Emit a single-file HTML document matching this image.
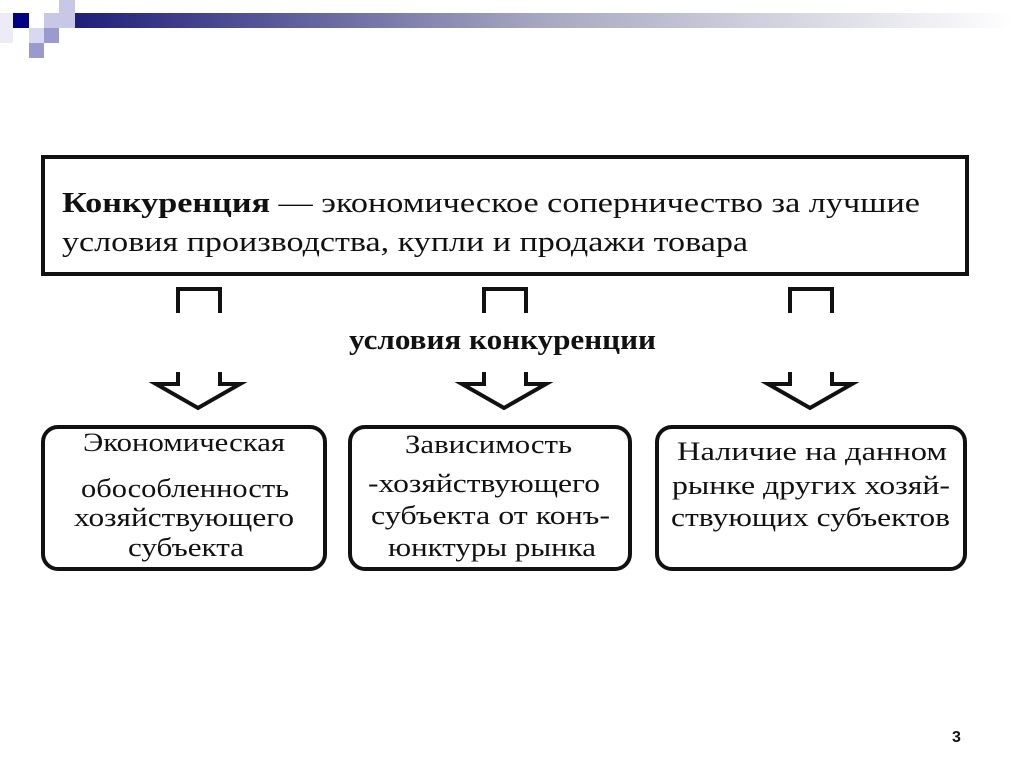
<!DOCTYPE html>
<html><head><meta charset="utf-8"><style>
body{margin:0;background:#fff;}
svg{display:block}
text{font-family:"Liberation Serif","DejaVu Serif",serif;fill:#111}
</style></head><body>
<svg width="1024" height="767" viewBox="0 0 1024 767">
<defs><linearGradient id="g" x1="0" x2="1"><stop offset="0" stop-color="#1a1a78"/><stop offset="0.5" stop-color="#a6a6c0"/><stop offset="1" stop-color="#fff"/></linearGradient></defs>
<rect x="59" y="13" width="955" height="15" fill="url(#g)"/>
<rect x="13" y="13" width="16" height="15" fill="#000080"/>
<rect x="44" y="13" width="15" height="15" fill="#c8c8e6"/>
<rect x="59" y="0" width="16" height="28" fill="#c8c8e6"/>
<rect x="29" y="28" width="15" height="15" fill="#d8d8ee"/>
<rect x="44" y="28" width="15" height="15" fill="#9a9ace"/>
<rect x="29" y="43" width="15" height="15" fill="#9a9ace"/>
<rect x="0" y="13" width="13" height="30" fill="#ececf6"/>
<rect x="43" y="157" width="924" height="117" fill="none" stroke="#111" stroke-width="4"/>
<g lengthAdjust="spacingAndGlyphs">
<text x="62" y="212" font-size="28" textLength="858" lengthAdjust="spacingAndGlyphs"><tspan font-weight="bold">Конкуренция</tspan> — экономическое соперничество за лучшие</text>
<text x="62" y="251" font-size="28" textLength="686" lengthAdjust="spacingAndGlyphs">условия производства, купли и продажи товара</text>
</g>
<g fill="none" stroke="#111" stroke-width="4">
<path d="M178 313V289H220V313"/><path d="M484 313V289H526V313"/><path d="M790 313V289H832V313"/>
<path d="M178 372V384H156L198 408L240 384H220V372"/>
<path d="M484 372V384H462L504 408L546 384H526V372"/>
<path d="M790 372V384H768L810 408L852 384H832V372"/>
<rect x="43" y="427" width="282" height="142" rx="15"/>
<rect x="350" y="427" width="280" height="142" rx="15"/>
<rect x="657" y="427" width="308" height="142" rx="15"/>
</g>
<text x="349" y="349" font-size="28" font-weight="bold" textLength="307" lengthAdjust="spacingAndGlyphs">условия конкуренции</text>
<g font-size="26">
<text x="83" y="451" textLength="202" lengthAdjust="spacingAndGlyphs">Экономическая</text>
<text x="81" y="497" textLength="208" lengthAdjust="spacingAndGlyphs">обособленность</text>
<text x="74" y="526" textLength="220" lengthAdjust="spacingAndGlyphs">хозяйствующего</text>
<text x="128" y="556" textLength="116" lengthAdjust="spacingAndGlyphs">субъекта</text>
<text x="405" y="453" textLength="167" lengthAdjust="spacingAndGlyphs">Зависимость</text>
<text x="368" y="492" textLength="232" lengthAdjust="spacingAndGlyphs">-хозяйствующего</text>
<text x="371" y="524" textLength="239" lengthAdjust="spacingAndGlyphs">субъекта от конъ-</text>
<text x="388" y="556" textLength="208" lengthAdjust="spacingAndGlyphs">юнктуры рынка</text>
<text x="677" y="460" textLength="270" lengthAdjust="spacingAndGlyphs">Наличие на данном</text>
<text x="672" y="494" textLength="278" lengthAdjust="spacingAndGlyphs">рынке других хозяй-</text>
<text x="671" y="526" textLength="279" lengthAdjust="spacingAndGlyphs">ствующих субъектов</text>
</g>
<text x="952" y="742" font-size="16" font-weight="bold" style="font-family:'Liberation Sans',sans-serif">3</text>
</svg>
</body></html>
